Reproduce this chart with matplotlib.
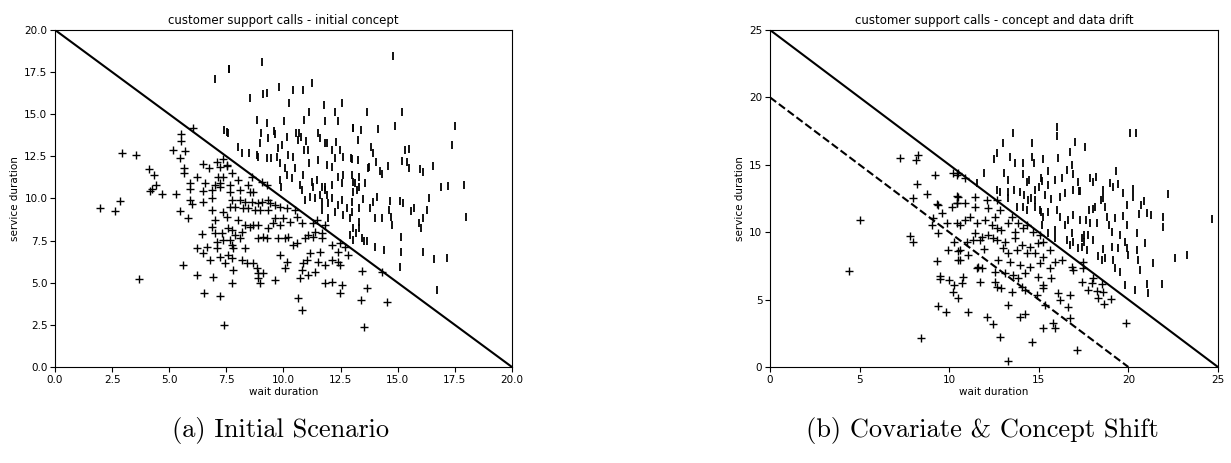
import matplotlib
matplotlib.use("Agg")
import matplotlib.pyplot as plt

# ---------------- left panel data (initial concept) ----------------
left_plus_x = [7.66, 8.10, 8.53, 8.68, 7.73, 8.10, 8.32, 8.61, 8.90, 9.04, 9.34, 9.41, 7.66, 7.88, 8.24, 8.46,
               8.75, 8.97, 9.34, 9.63, 9.85, 10.14, 10.50, 10.58, 10.80, 9.99, 9.63, 9.56, 9.34, 9.85, 10.28, 8.02,
               8.53, 8.68, 8.90, 7.59, 7.73, 7.88, 8.90, 9.12, 9.26, 9.77, 10.07, 10.21, 10.43, 10.58, 11.09, 11.38,
               11.67, 11.31, 11.45, 11.82, 12.11, 12.47, 12.69, 12.40, 12.84, 7.66, 7.73, 7.80, 8.32, 7.59, 7.73,
               8.17, 8.39, 8.68, 8.83, 8.90, 9.12, 8.90, 8.97, 9.63, 7.80, 7.73, 9.85, 10.14, 10.07, 10.87, 11.01,
               10.80, 11.09, 11.38, 11.52, 11.82, 12.11, 12.40, 12.47, 11.82, 12.11, 12.55, 12.47, 10.72, 10.65,
               10.80, 7.40, 11.16, 11.60, 10.94, 11.31, 11.67, 8.32, 8.17, 8.10,
               1.97, 2.63, 2.84, 3.69, 4.16, 4.23, 4.67, 5.30, 5.47, 5.84, 5.91, 5.98, 5.91, 6.49, 6.49, 6.86, 6.86,
               6.86, 7.22, 7.37, 7.51, 7.00, 6.86, 7.00, 7.29, 6.42, 7.07, 7.37, 6.64, 6.20, 6.46, 7.07, 6.78, 7.22,
               7.44, 5.59, 6.23, 6.90, 6.52, 7.22,
               2.92, 3.55, 4.11, 4.33, 4.42, 5.15, 5.51, 5.51, 5.70, 5.47, 5.65, 5.65, 6.23, 6.49, 6.75, 7.08, 7.34,
               7.22, 7.51, 7.15, 7.37, 6.56, 5.91, 7.00, 7.22, 6.05,
               7.51, 7.73, 8.02, 7.66, 8.46, 8.61, 9.04, 9.26,
               13.42, 14.30, 13.67, 13.39, 14.54, 13.52]
left_plus_y = [10.40, 10.50, 10.40, 10.40, 9.91, 9.91, 9.81, 9.81, 9.71, 9.81, 9.91, 9.71, 9.51, 9.51, 9.42, 9.42,
               9.32, 9.32, 9.32, 9.61, 9.51, 9.42, 9.32, 8.92, 8.53, 8.82, 8.82, 8.53, 8.23, 8.43, 8.62, 8.72,
               8.33, 8.43, 8.43, 8.23, 8.13, 7.83, 7.63, 7.73, 7.63, 7.63, 7.63, 7.73, 7.24, 7.34, 7.83, 8.03,
               7.93, 8.53, 8.72, 8.43, 7.24, 7.34, 7.14, 6.84, 6.65, 7.54, 7.24, 7.04, 7.04, 6.65, 6.45,
               6.35, 6.15, 6.15, 5.85, 5.56, 5.56, 5.26, 4.96, 5.16, 5.76, 4.96, 6.65, 6.25, 5.85, 6.15, 6.35,
               5.76, 5.46, 5.66, 6.25, 6.05, 6.35, 6.25, 6.05, 4.96, 5.06, 4.87, 4.37, 5.26, 4.07,
               3.38, 2.49, 6.74, 6.84, 7.63, 7.73, 7.63, 8.43, 8.03, 7.63,
               9.45, 9.26, 9.85, 5.20, 10.44, 10.56, 10.25, 10.25, 9.26, 8.82, 9.91, 9.65, 10.56, 10.44, 9.77, 10.50,
               10.01, 9.32, 10.70, 9.22, 8.92, 8.72, 8.33, 7.93, 7.93, 7.87, 7.44, 7.54, 7.14, 7.04, 6.74, 7.04, 6.35,
               6.55, 6.15, 6.05, 5.46, 5.32, 4.37, 4.21,
               12.68, 12.58, 11.73, 11.40, 10.80, 12.88, 13.83, 13.44, 12.84, 12.39, 11.79, 11.50, 11.26, 12.05,
               11.79, 12.19, 12.33, 11.89, 11.93, 11.30, 11.30, 10.94, 10.94, 10.80, 10.90, 14.20,
               11.99, 11.50, 11.10, 10.80, 10.80, 11.30, 11.00, 10.80,
               5.70, 5.62, 4.67, 3.98, 3.84, 2.39]

left_bar_x = [7.00, 7.61, 7.40, 7.54,
              9.04, 7.62, 9.80, 9.26, 9.12, 8.53, 10.42, 10.87, 11.23, 10.24, 11.79, 12.55, 11.12, 12.25, 8.86,
              9.29, 10.04, 10.91, 11.82, 12.40, 7.59, 9.02, 9.60, 9.63, 9.34, 10.15, 10.53, 10.68, 10.77, 10.98,
              10.65, 11.52, 11.60, 11.82, 11.89, 12.28, 13.06, 8.97, 8.02, 8.17, 8.49, 8.83, 8.90, 9.26, 9.45,
              9.77, 9.95, 9.70, 9.85, 10.07, 10.18, 10.43, 10.50, 10.88, 11.09, 11.12, 11.50, 11.89, 12.11, 12.25,
              12.47, 12.62, 12.95, 12.11, 12.40, 12.62, 13.01, 10.87, 11.23, 11.67, 11.82, 10.72, 10.14, 10.36,
              9.85, 9.89, 11.45, 12.11, 12.55, 13.06,
              14.78, 13.67, 15.19, 17.52, 14.89, 13.03, 13.38, 14.15, 13.27, 13.81, 13.93, 15.30, 15.51, 17.36,
              12.98, 13.27, 14.05, 13.76, 13.71, 14.22, 14.31, 14.59, 15.17, 15.42, 15.51, 15.97, 16.12, 16.53,
              13.30, 13.13, 13.57, 13.32, 16.88, 17.21, 17.91,
              12.98, 13.20, 13.46, 13.32, 13.79, 13.90, 14.08, 14.66, 14.62, 14.69, 14.75, 15.10, 15.24, 15.58,
              15.73, 16.29, 16.37, 13.99, 14.31, 15.92, 16.09, 16.02, 17.99, 13.06, 13.17, 13.30, 13.32, 13.42,
              13.52, 13.67, 14.00, 14.40, 15.14, 15.14, 16.09, 17.14, 15.10, 16.70,
              10.80, 11.31, 11.38, 11.60, 11.67, 11.82, 11.89, 11.96, 12.11, 12.25, 12.40, 12.55, 12.62, 12.76,
              12.91, 12.98, 13.06, 12.91, 13.06, 11.67, 11.96, 11.16, 10.94, 16.60]
left_bar_y = [17.08, 17.67, 14.07, 13.97,
              18.12, 17.67, 16.64, 16.28, 16.20, 15.95, 16.44, 16.44, 16.84, 15.69, 15.55, 15.69, 15.16, 15.16, 14.66,
              14.46, 14.62, 14.66, 14.62, 14.62, 13.91, 13.87, 14.03, 13.83, 13.57, 13.67, 13.91, 13.87, 13.67, 13.44,
              13.47, 13.87, 13.57, 13.28, 13.28, 13.38, 14.17, 13.28, 13.08, 12.68, 12.68, 12.58, 12.49, 12.39, 12.39,
              12.98, 13.18, 12.49, 12.09, 11.79, 12.58, 12.45, 11.79, 12.88, 12.88, 12.09, 12.29, 11.99, 12.88, 12.39,
              12.88, 12.49, 12.39, 11.89, 11.30, 11.40, 11.40, 11.40, 11.00, 10.71, 10.71, 10.80, 11.40, 11.20,
              11.10, 10.71, 11.10, 10.80, 10.90, 11.00,
              18.46, 15.16, 15.16, 14.31, 14.31, 14.17, 14.07, 14.11, 13.47, 13.08, 12.68, 12.88, 12.92, 13.18,
              12.35, 12.29, 12.15, 11.89, 11.79, 11.65, 11.45, 11.93, 12.23, 12.19, 11.79, 11.75, 11.56, 11.95,
              11.30, 10.94, 10.94, 10.70, 10.70, 10.74, 10.78,
              9.81, 10.50, 9.97, 9.42, 9.42, 9.81, 10.11, 9.85, 9.32, 8.92, 8.43, 9.85, 9.71, 9.26,
              9.42, 9.32, 10.01, 8.82, 8.86, 8.53, 8.82, 8.23, 8.88, 8.23, 7.93, 8.23, 8.62, 7.67,
              7.47, 7.47, 7.14, 6.94, 7.73, 6.84, 6.80, 6.49, 5.95, 4.57,
              10.50, 10.70, 10.01, 10.21, 9.81, 10.50, 10.21, 9.71, 10.01, 9.22, 9.61, 9.91, 9.02, 9.42,
              8.82, 9.22, 10.40, 7.83, 7.54, 9.32, 8.82, 10.11, 9.91, 6.40]

# ---------------- right panel data (concept and data drift) ----------------
right_plus_x = [7.26, 8.15, 8.28, 9.21, 10.23, 10.51, 8.22, 8.74, 7.96, 9.30, 9.40, 10.42, 10.42, 10.14, 9.58,
                9.12, 9.02, 9.86, 10.42, 9.40, 7.81, 5.02,
                7.96, 4.43, 9.34, 9.49, 9.49, 10.01, 10.27, 10.23, 10.51, 9.40, 9.82, 8.41, 9.95, 10.27, 10.51, 10.51,
                10.97, 11.34, 11.72, 12.46, 12.65, 13.11, 13.67, 14.04, 14.51, 14.97, 15.25, 15.62, 10.60, 11.06,
                11.96, 13.02, 13.30, 13.76, 14.32, 14.78, 15.25, 10.60, 11.62, 11.81, 12.74, 13.39, 13.95, 14.51,
                15.06, 15.62, 15.90, 16.27, 16.83, 16.92, 11.53, 12.55, 13.11, 13.58, 13.85, 14.23, 14.97, 15.71,
                10.79, 10.69, 11.72, 12.55, 12.65, 12.92, 13.48, 14.04, 14.23, 15.25, 15.25, 14.88, 16.09, 16.18,
                16.74, 15.34, 16.64, 16.74, 11.06, 12.09, 12.46, 12.83, 13.30, 13.95, 14.23, 14.64, 15.25, 15.81,
                15.90, 17.11, 13.30,
                10.41, 10.88, 10.51, 10.41, 10.88, 11.44, 11.44, 12.18, 12.09, 12.65, 12.83, 13.48, 13.85, 14.13,
                14.32, 11.99, 12.55, 11.16, 10.88, 10.60, 11.53, 12.37, 12.65, 12.92, 13.30, 13.67, 14.69, 15.06,
                11.44, 11.81, 12.18,
                17.49, 17.49, 18.04, 17.95, 18.51, 17.77, 18.23, 18.56, 18.32, 19.01, 18.64, 19.87, 17.39]
right_plus_y = [15.53, 15.36, 15.73, 14.25, 14.37, 14.37, 13.58, 12.84, 12.52, 12.10, 12.02, 12.69, 12.20, 11.90, 11.40,
                11.03, 10.54, 10.66, 10.66, 9.92, 9.72, 10.91,
                9.30, 7.12, 7.86, 6.77, 6.53, 6.45, 6.08, 5.54, 5.14, 4.52, 4.10, 2.12, 8.68, 9.25, 7.94, 8.60,
                9.30, 9.42, 9.42, 9.54, 9.42, 9.30, 9.54, 9.05, 8.92, 9.17, 9.30, 8.68, 8.68, 8.31,
                8.75, 8.80, 8.43, 8.68, 8.43, 8.43, 8.18, 7.94, 7.44, 7.32, 7.94, 7.81, 7.57, 7.44,
                7.69, 7.32, 7.81, 7.94, 7.44, 7.20, 7.32, 7.07, 6.95, 6.82, 6.57, 6.95, 6.70, 6.57,
                6.70, 6.20, 6.33, 6.33, 5.96, 5.83, 5.59, 5.96, 5.71, 6.08, 5.83, 5.34, 5.46, 4.97,
                5.34, 4.60, 4.47, 3.61, 4.05, 3.73, 3.16, 2.25, 4.60, 3.73, 3.90, 1.88, 2.87, 3.24,
                2.87, 1.26, 0.44,
                14.25, 14.00, 12.64, 12.15, 12.15, 12.59, 11.90, 11.78, 12.39, 12.39, 11.65, 11.16, 10.66, 10.29,
                10.54, 10.91, 11.16, 11.16, 10.91, 10.54, 10.66, 10.54, 10.29, 10.17, 10.66, 10.05, 10.05, 9.80,
                9.92, 9.67, 9.80,
                7.81, 7.32, 6.57, 6.20, 6.13, 5.71, 5.64, 5.54, 5.14, 5.04, 4.65, 3.24, 6.33]

right_bar_x = [16.55, 16.74, 16.92, 17.20, 17.39, 15.90, 11.53,
               16.00, 16.00, 13.58, 13.02, 14.64, 17.05, 12.65, 12.52, 13.39, 13.67, 14.13, 14.64, 14.75, 15.25,
               16.05, 16.74, 16.83, 11.96, 13.07, 13.26, 14.13, 14.32, 14.45, 15.12, 15.19, 15.53, 15.53, 15.90,
               16.27, 16.55, 16.92, 17.20, 12.65, 12.83, 13.30, 13.30, 13.63, 13.95, 14.19, 14.41, 14.78, 15.01,
               15.34, 14.78, 15.71, 16.18, 16.46, 16.92, 17.24, 13.76, 14.13, 14.32, 15.12, 15.06, 15.25, 15.53,
               15.99, 16.18, 16.46, 16.64, 16.92, 17.29, 15.16, 15.90, 15.53, 16.83, 14.78, 14.56,
               20.09, 20.43, 17.58, 19.31, 17.86, 18.04, 18.19, 18.97, 19.16, 19.44, 18.60, 18.56, 19.72, 20.24,
               20.28, 22.23, 19.94, 20.69, 20.87, 18.70, 18.14, 17.82, 18.00, 18.79, 19.25, 19.72, 20.61, 21.02,
               21.24, 21.91, 21.95, 24.65, 17.63, 17.86, 18.23, 18.94, 19.94, 19.07, 19.53, 20.50, 17.52, 17.77,
               18.45, 17.30,
               17.39, 17.67, 18.32, 18.51, 18.70, 18.60, 19.16, 19.25, 19.53, 20.00, 20.56, 20.65, 21.35, 22.60,
               23.25, 19.81, 20.37, 21.02, 21.11, 21.86, 20.93, 20.46, 19.81, 19.44, 19.07, 17.52, 18.00, 19.90]
right_bar_y = [9.42, 9.05, 9.30, 8.80, 9.54, 9.54, 13.63,
               17.83, 17.14, 17.34, 16.60, 16.60, 16.72, 15.86, 15.41, 15.56, 15.16, 15.16, 15.61, 15.16, 15.41,
               15.48, 15.98, 14.99, 14.42, 14.37, 13.88, 14.32, 13.75, 13.88, 14.00, 13.83, 14.57, 13.51, 13.88,
               14.00, 14.62, 14.32, 13.75, 13.14, 13.01, 13.01, 12.52, 13.14, 13.01, 12.77, 12.39, 13.14, 13.33,
               12.77, 12.39, 12.44, 12.64, 12.89, 13.14, 13.09, 11.90, 11.90, 11.65, 11.53, 11.65, 11.16, 11.53,
               11.65, 11.16, 10.54, 10.91, 11.28, 10.91, 10.54, 10.17, 9.92, 9.92, 11.90, 12.52,
               17.39, 17.39, 16.30, 14.57, 14.00, 13.75, 14.12, 13.68, 13.38, 13.58, 13.14, 12.52, 12.94, 13.19,
               12.59, 12.84, 12.02, 12.02, 12.34, 11.90, 11.90, 11.65, 11.70, 11.16, 11.04, 11.21, 11.33, 11.45,
               11.28, 11.11, 10.42, 10.96, 10.91, 10.66, 10.66, 10.54, 10.54, 10.05, 9.80, 9.92, 9.80, 9.80,
               12.39, 13.09,
               8.92, 8.68, 8.26, 7.94, 8.06, 8.75, 7.94, 7.32, 7.07, 8.31, 7.94, 7.20, 7.69, 8.06,
               8.31, 6.08, 5.71, 6.13, 5.46, 6.13, 9.17, 8.68, 9.30, 8.80, 8.92, 9.30, 9.42, 8.80]

left_limit = 20.0           # initial concept: wait + service = 20
right_limit = 25.0          # drifted concept: wait + service = 25
left_ticks = [0.0, 2.5, 5.0, 7.5, 10.0, 12.5, 15.0, 17.5, 20.0]
right_ticks = [0, 5, 10, 15, 20, 25]

fig = plt.figure(figsize=(12.31, 4.63), dpi=100)
axL = fig.add_axes([0.0447, 0.2073, 0.3712, 0.728])
axR = fig.add_axes([0.6255, 0.2073, 0.3639, 0.728])

ms = 5.5
for ax in (axL, axR):
    for s in ax.spines.values():
        s.set_linewidth(0.8)
    ax.tick_params(labelsize=7.5, width=0.8, length=3.5, pad=2)

# left
axL.plot(left_plus_x, left_plus_y, linestyle='none', marker='+', color='black', ms=ms, mew=1.0)
axL.plot(left_bar_x, left_bar_y, linestyle='none', marker='|', color='black', ms=ms, mew=1.3)
axL.plot([0, left_limit], [left_limit, 0], color='black', lw=1.5)
axL.set_xlim(0, 20)
axL.set_ylim(0, 20)
axL.set_xticks(left_ticks)
axL.set_yticks(left_ticks)
axL.set_xticklabels([f"{t:.1f}" for t in left_ticks])
axL.set_yticklabels([f"{t:.1f}" for t in left_ticks])
axL.set_xlabel("wait duration", fontsize=7.5, labelpad=2)
axL.set_ylabel("service duration", fontsize=7.5, labelpad=3)
axL.set_title("customer support calls - initial concept", fontsize=8.5, pad=4)

# right
axR.plot(right_plus_x, right_plus_y, linestyle='none', marker='+', color='black', ms=ms, mew=1.0)
axR.plot(right_bar_x, right_bar_y, linestyle='none', marker='|', color='black', ms=ms, mew=1.3)
axR.plot([0, right_limit], [right_limit, 0], color='black', lw=1.5)
axR.plot([0, left_limit], [left_limit, 0], color='black', lw=1.5, linestyle='--')
axR.set_xlim(0, 25)
axR.set_ylim(0, 25)
axR.set_xticks(right_ticks)
axR.set_yticks(right_ticks)
axR.set_xlabel("wait duration", fontsize=7.5, labelpad=2)
axR.set_ylabel("service duration", fontsize=7.5, labelpad=3)
axR.set_title("customer support calls - concept and data drift", fontsize=8.5, pad=4)

fig.text(0.228, 0.07, "(a) Initial Scenario", ha='center', va='center', fontsize=19, family='cmr10')
fig.text(0.798, 0.07, "(b) Covariate & Concept Shift", ha='center', va='center', fontsize=19, family='cmr10')

fig.savefig("out.png", dpi=100)
